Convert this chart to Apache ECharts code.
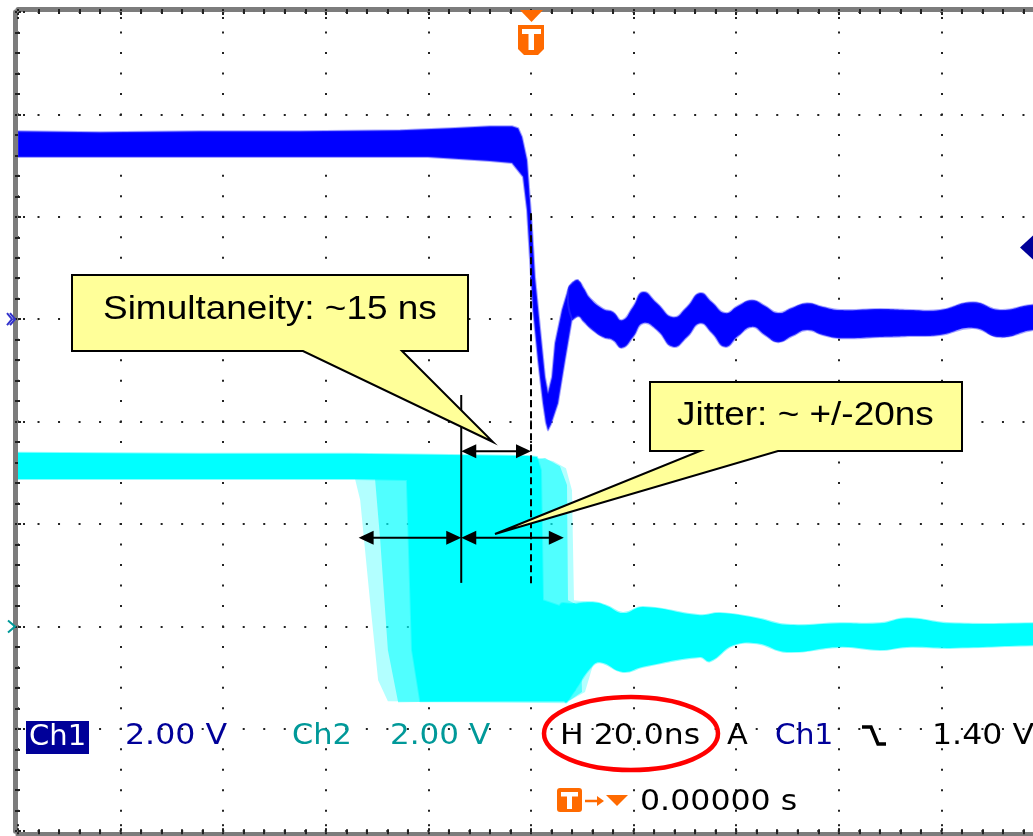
<!DOCTYPE html>
<html><head><meta charset="utf-8">
<script src="https://cdn.jsdelivr.net/npm/echarts@6/dist/echarts.min.js"></script>
<style>html,body{margin:0;padding:0;background:#fff;overflow:hidden;width:1033px;height:836px}#c{width:1046px;height:836px}</style>
</head><body><div id="c"></div>
<script>
// ---- scope settings ----
const timeMin = -100, timeMax = 100, timePerDiv = 20;      // ns
const ch1Min = -10, ch1Max = 6, ch2Min = -4, ch2Max = 12, voltsPerDiv = 2; // V
const ch1TrigLevel = 1.40;     // V
const triggerTime = 0;         // ns
const ch2EdgeMean = -13.6;     // ns, mean Ch2 edge
const jitterHalf = 20;         // ns
const readoutTexts = ['Ch1', '2.00 V', 'Ch2', '2.00 V', 'H 20.0ns', 'A', 'Ch1', '1.40 V', '0.00000 s'];
const calloutTexts = ['Simultaneity: ~15 ns', 'Jitter: ~ +/-20ns'];

// ---- Ch1 envelope [ns, V] ----
const ch1Upper = [[-100,3.67],[-84,3.65],[-64.5,3.67],[-45,3.67],[-25.5,3.69],[-15.8,3.73],[-8,3.77],[-3.7,3.77],[-2.5,3.73],[-1.75,3.56],[-0.78,3.11],[0.19,1.80],[0.78,0.82],[1.75,-0.16],[2.73,-1.13],[3.31,-1.44],[4.09,-1.13],[4.68,-0.47],[6.04,0.18],[7.21,0.57],[8.2,0.72],[9.16,0.76],[10.3,0.6],[11.50,0.41],[14.04,0.20],[15.98,0.14],[17.74,-0.02],[19.88,0.24],[21.83,0.53],[24.56,0.31],[27.68,0.04],[30.41,0.24],[32.94,0.51],[35.28,0.33],[37.82,0.12],[40.35,0.26],[43.08,0.37],[45.61,0.26],[48.15,0.12],[50.88,0.22],[53.80,0.31],[56.92,0.24],[60.23,0.18],[68.03,0.20],[73.88,0.18],[79.73,0.18],[86.16,0.33],[91.42,0.18],[97.86,0.28],[100,0.24]];
const ch1Lower = [[-100,3.17],[-45,3.17],[-20.1,3.17],[-8,3.09],[-3.7,3.05],[-1.56,2.78],[-0.78,2.13],[-0.19,1.15],[0.39,0.18],[1.36,-0.80],[2.34,-1.64],[2.9,-2.02],[3.31,-2.17],[3.9,-2.05],[5.26,-1.64],[6.63,-0.80],[7.99,0.0],[9.16,0.06],[10.3,-0.05],[11.50,-0.17],[14.04,-0.35],[15.98,-0.41],[17.74,-0.56],[19.88,-0.35],[21.83,-0.08],[24.56,-0.21],[27.68,-0.54],[30.41,-0.35],[32.94,-0.08],[35.28,-0.27],[37.82,-0.54],[40.35,-0.33],[43.08,-0.15],[45.61,-0.31],[48.15,-0.45],[50.88,-0.33],[53.80,-0.21],[56.92,-0.31],[60.23,-0.37],[68.03,-0.35],[73.88,-0.33],[79.73,-0.31],[86.16,-0.17],[91.42,-0.35],[97.86,-0.21],[100,-0.25]];

// ---- Ch2 envelopes [ns, V] ----
const ch2CoreUpper = [[-100,3.39],[-64.5,3.37],[-35.3,3.37],[-15.8,3.35],[-0.78,3.33],[1.17,3.31],[1.95,3.05],[2.34,0.51],[5.65,0.40],[8.38,0.44],[12.09,0.47],[14.81,0.40],[17.93,0.26],[21.83,0.38],[32.94,0.22],[36.84,0.26],[44.05,0.16],[49.90,0.03],[60.23,0.06],[68.03,0.06],[73.29,0.16],[81.68,0.06],[97.86,0.06],[100,0.08]];
const ch2CoreLower = [[-100,2.88],[-64.5,2.88],[-34.3,2.88],[-24.2,2.86],[-23.2,-0.46],[-21.6,-1.46],[6.63,-1.46],[8.58,-1.24],[11.50,-0.82],[13.45,-0.70],[17.93,-0.89],[21.83,-0.79],[32.94,-0.60],[34.89,-0.68],[39.38,-0.37],[44.05,-0.33],[49.90,-0.50],[60.23,-0.40],[68.03,-0.46],[73.29,-0.40],[81.68,-0.42],[97.86,-0.37],[100,-0.38]];
const ch2JitterUpper = [[-34.3,3.37],[-0.78,3.33],[4.29,3.23],[6.82,3.09],[7.99,2.66],[8.38,0.51],[12.09,0.47]];
const ch2JitterLower = [[-34.3,2.88],[-33.3,2.47],[-31.4,0.51],[-29.8,-1.05],[-27.9,-1.46],[6.63,-1.50],[10.53,-1.28],[11.89,-0.82],[12.09,-0.75]];
const ch2JitterMid = [[-30.4,2.88],[2.73,3.29],[5.65,3.13],[7.02,2.76],[7.21,0.51],[9.55,0.40],[9.94,-1.28],[7.60,-1.44],[-25.9,-1.48],[-27.9,-0.46],[-29.4,1.69]];

const chart = echarts.init(document.getElementById('c'));

function envelope(name, upper, lower, yIdx, style, z, smooth) {
  return {
    type: 'custom', name, xAxisIndex: 0, yAxisIndex: yIdx, coordinateSystem: 'cartesian2d',
    data: [[0, 0]], clip: true, silent: true, z: z,
    renderItem: function (params, api) {
      const pts = upper.concat(lower.slice().reverse()).map(p => api.coord(p));
      return { type: 'polygon', shape: { points: pts, smooth: smooth || 0, smoothConstraint: false }, style: style };
    }
  };
}
const upTo = (arr, t) => arr.filter(p => p[0] <= t);
const from = (arr, t) => arr.filter(p => p[0] >= t);

const dotV = { color: '#222', width: 2, type: [2, 18.48], dashOffset: 1 };
const dotH = { color: '#222', width: 2, type: [2, 18.52], dashOffset: 1 };
const borderLine = { show: true, onZero: false, lineStyle: { color: '#7c7c7c', width: 5 } };
const tickStyle = { show: true, inside: true, length: 12, lineStyle: { color: '#222', width: 2, type: [2, 2] } };
const minorStyle = { show: true, splitNumber: 5, length: 5, lineStyle: { color: '#222', width: 2 } };

const ch1Style = { fill: '#0000ff', stroke: 'rgba(60,60,255,0.45)', lineWidth: 2, lineJoin: 'round' };
const ch2Style = { fill: '#00ffff', stroke: 'rgba(0,255,255,0.45)', lineWidth: 2, lineJoin: 'round' };

chart.setOption({
  animation: false,
  backgroundColor: '#fff',
  grid: { left: 18, top: 12, width: 1026, height: 819.2, containLabel: false },
  xAxis: [
    { type: 'value', position: 'top', offset: 3, min: timeMin, max: timeMax, interval: timePerDiv,
      axisLine: borderLine, axisTick: tickStyle, minorTick: minorStyle, axisLabel: { show: false },
      splitLine: { show: true, lineStyle: dotV } },
    { type: 'value', position: 'bottom', offset: 3, min: timeMin, max: timeMax, interval: timePerDiv,
      axisLine: borderLine, axisTick: tickStyle, minorTick: minorStyle, axisLabel: { show: false },
      splitLine: { show: false } }
  ],
  yAxis: [
    { type: 'value', position: 'left', offset: 3, min: ch1Min, max: ch1Max, interval: voltsPerDiv,
      axisLine: borderLine, axisTick: tickStyle, minorTick: minorStyle, axisLabel: { show: false },
      splitLine: { show: true, lineStyle: dotH } },
    { type: 'value', show: false, min: ch2Min, max: ch2Max, interval: voltsPerDiv, splitLine: { show: false } }
  ],
  series: [
    envelope('Ch2 jitter', ch2JitterUpper, ch2JitterLower, 1, { fill: 'rgba(0,255,255,0.3)' }, 2, 0),
    envelope('Ch2 jitter mid', ch2JitterMid, [], 1, { fill: 'rgba(0,255,255,0.55)' }, 3, 0),
    envelope('Ch2', upTo(ch2CoreUpper, 8.4), upTo(ch2CoreLower, 8.6), 1, ch2Style, 4, 0),
    envelope('Ch2 settled', from(ch2CoreUpper, 5.6), from(ch2CoreLower, 6.6), 1, ch2Style, 4, 0.45),
    envelope('Ch1', upTo(ch1Upper, 9.2), upTo(ch1Lower, 9.2), 0, ch1Style, 5, 0),
    envelope('Ch1 ringing', from(ch1Upper, 7.2), from(ch1Lower, 7.9), 0, ch1Style, 5, 0.5)
  ]
});

function px(t, v, yi) { return chart.convertToPixel({ xAxisIndex: 0, yAxisIndex: yi }, [t, v]); }
const G = [];
const Z = 100;
function hArrow(x1, x2, y) {
  const L = 15, H = 7;
  G.push({ type: 'line', z: Z, shape: { x1: x1 + 4, y1: y, x2: x2 - 4, y2: y }, style: { stroke: '#000', lineWidth: 2 } });
  G.push({ type: 'polygon', z: Z, shape: { points: [[x1, y], [x1 + L, y - H], [x1 + L, y + H]] }, style: { fill: '#000' } });
  G.push({ type: 'polygon', z: Z, shape: { points: [[x2, y], [x2 - L, y - H], [x2 - L, y + H]] }, style: { fill: '#000' } });
}
function txt(x, y, s, color, font, sx) {
  G.push({ type: 'text', z: Z + 2, x: x, y: y, scaleX: sx || 1,
    style: { text: s, fill: color, font: font, textAlign: 'left', textVerticalAlign: 'middle', align: 'left', verticalAlign: 'middle' } });
}

// Trigger time marker at top
const tx = px(triggerTime, 0, 0)[0];
const orange = '#ff6a00';
G.push({ type: 'polygon', z: Z, shape: { points: [[tx - 11, 10], [tx + 12, 10], [tx + 0.5, 22]] }, style: { fill: orange } });
G.push({ type: 'polygon', z: Z, shape: { points: [[tx - 13, 25], [tx + 13, 25], [tx + 13, 49], [tx + 7, 55], [tx - 7, 55], [tx - 13, 49]] }, style: { fill: orange } });
G.push({ type: 'rect', z: Z + 1, shape: { x: tx - 9, y: 29, width: 19, height: 5 }, style: { fill: '#fff' } });
G.push({ type: 'rect', z: Z + 1, shape: { x: tx - 2.5, y: 33, width: 5.5, height: 17 }, style: { fill: '#fff' } });

// Trigger level marker (right) and ground markers (left)
const ty = px(0, ch1TrigLevel, 0)[1];
G.push({ type: 'polygon', z: Z, shape: { points: [[1020, ty], [1033, ty - 12], [1046, ty], [1033, ty + 12]] }, style: { fill: '#000099' } });
const g1 = px(0, 0, 0)[1], g2 = px(0, 0, 1)[1];
G.push({ type: 'polyline', z: Z, shape: { points: [[7, g1 - 6], [12, g1], [7, g1 + 6]] }, style: { stroke: '#3333cc', lineWidth: 2, fill: null } });
G.push({ type: 'polyline', z: Z, shape: { points: [[10, g1 - 6], [15, g1], [10, g1 + 6]] }, style: { stroke: '#3333cc', lineWidth: 2, fill: null } });
G.push({ type: 'polyline', z: Z, shape: { points: [[8, g2 - 6], [15, g2], [8, g2 + 6]] }, style: { stroke: '#009999', lineWidth: 2, fill: null } });

// Measurement lines and arrows
const xm = px(ch2EdgeMean, 0, 1)[0];
const xl = px(ch2EdgeMean - jitterHalf, 0, 1)[0];
const xr = px(ch2EdgeMean + jitterHalf, 0, 1)[0];
const yA1 = px(0, 3.42, 1)[1], yA2 = px(0, 1.73, 1)[1];
G.push({ type: 'line', z: Z, shape: { x1: xm, y1: px(0, 4.52, 1)[1], x2: xm, y2: px(0, 0.85, 1)[1] }, style: { stroke: '#000', lineWidth: 2 } });
G.push({ type: 'line', z: Z, shape: { x1: tx, y1: px(0, 8.07, 1)[1], x2: tx, y2: px(0, 0.81, 1)[1] }, style: { stroke: '#000', lineWidth: 2, lineDash: [7, 4] } });
hArrow(xm, tx, yA1);
hArrow(xl, xm, yA2);
hArrow(xm, xr, yA2);

// Callouts
const calloutStyle = { fill: '#ffff99', stroke: '#000', lineWidth: 2, lineJoin: 'miter' };
G.push({ type: 'polygon', z: Z + 1, shape: { points: [[72, 275], [468, 275], [468, 351], [402, 351], [493, 442], [303, 351], [72, 351]] }, style: calloutStyle });
G.push({ type: 'polygon', z: Z + 1, shape: { points: [[650, 382], [962, 382], [962, 451], [778, 451], [495, 534], [700, 451], [650, 451]] }, style: calloutStyle });
const cFont = '33px "Liberation Sans", Arial, sans-serif';
txt(103, 310, calloutTexts[0], '#000', cFont, 1.12);
txt(677, 416, calloutTexts[1], '#000', cFont, 1.12);

// Readouts
const rFont = '29px "DejaVu Sans", sans-serif';
G.push({ type: 'rect', z: Z, shape: { x: 26, y: 721, width: 63, height: 33 }, style: { fill: '#000099' } });
txt(29, 737, readoutTexts[0], '#ffffff', rFont, 1.0);
txt(125, 736, readoutTexts[1], '#000099', rFont, 1.09);
txt(292, 736, readoutTexts[2], '#009999', rFont, 1.05);
txt(390, 736, readoutTexts[3], '#009999', rFont, 1.07);
txt(560, 736, readoutTexts[4], '#000', rFont, 1.085);
txt(727, 736, readoutTexts[5], '#000', rFont, 1.05);
txt(775, 736, readoutTexts[6], '#000099', rFont, 1.02);
G.push({ type: 'polyline', z: Z, shape: { points: [[862, 727], [871, 727], [878, 744], [886, 744]] }, style: { stroke: '#000', lineWidth: 3.5, fill: null } });
txt(932, 736, readoutTexts[7], '#000', rFont, 1.09);
txt(640, 802, readoutTexts[8], '#000', rFont, 1.09);
// trigger position icon
G.push({ type: 'rect', z: Z, shape: { x: 557, y: 788, width: 25, height: 24, r: 3 }, style: { fill: orange } });
G.push({ type: 'rect', z: Z + 1, shape: { x: 561, y: 792, width: 17, height: 4.5 }, style: { fill: '#fff' } });
G.push({ type: 'rect', z: Z + 1, shape: { x: 567, y: 795, width: 5, height: 14 }, style: { fill: '#fff' } });
G.push({ type: 'line', z: Z, shape: { x1: 585, y1: 801, x2: 599, y2: 801 }, style: { stroke: orange, lineWidth: 2.5 } });
G.push({ type: 'polygon', z: Z, shape: { points: [[604, 801], [597, 796], [597, 806]] }, style: { fill: orange } });
G.push({ type: 'polygon', z: Z, shape: { points: [[606, 795], [628, 795], [617, 806]] }, style: { fill: orange } });
// red ellipse
G.push({ type: 'ellipse', z: Z + 3, shape: { cx: 631, cy: 733.5, rx: 87, ry: 36.5 }, style: { fill: null, stroke: '#ff0000', lineWidth: 4.5 } });

chart.setOption({ graphic: { elements: G } });
</script>
</body></html>
